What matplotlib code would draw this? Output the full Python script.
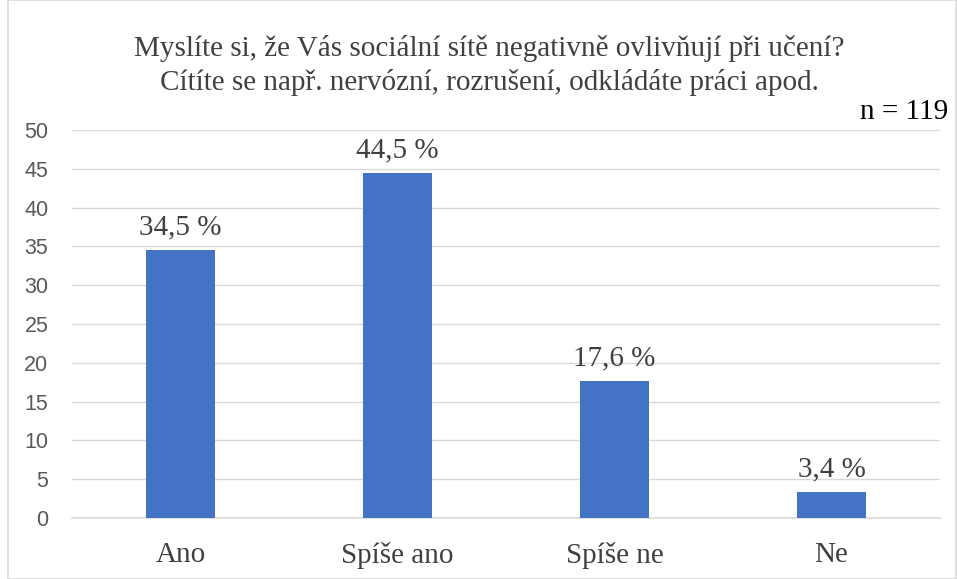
import matplotlib.pyplot as plt
from matplotlib.patches import Rectangle

categories = ['Ano', 'Spíše ano', 'Spíše ne', 'Ne']
values = [34.5, 44.5, 17.6, 3.4]
labels = ['34,5 %', '44,5 %', '17,6 %', '3,4 %']
yticks = [0, 5, 10, 15, 20, 25, 30, 35, 40, 45, 50]

serif = 'Liberation Serif'

fig = plt.figure(figsize=(9.57, 5.79), dpi=100)
ax = fig.add_axes([72 / 957, 1 - 518 / 579, 868 / 957, 388 / 579])

x = range(len(categories))
ax.bar(x, values, width=0.315, color='#4472C4', zorder=3)
ax.set_xlim(-0.5, len(categories) - 0.5)
ax.set_ylim(0, 50)
ax.set_yticks(yticks)
ax.set_xticks(list(x))
ax.set_xticklabels(categories, fontfamily=serif, fontsize=21, color='#404040')
ax.tick_params(axis='x', length=0, pad=17)
ax.tick_params(axis='y', length=0, pad=17, labelsize=15.5, labelcolor='#595959')
for t in ax.get_yticklabels():
    t.set_fontfamily('Liberation Sans')
ax.grid(axis='y', color='#D9D9D9', linewidth=1, zorder=0)
for s in ['top', 'right', 'left']:
    ax.spines[s].set_visible(False)
ax.spines['bottom'].set_color('#D9D9D9')
ax.spines['bottom'].set_linewidth(1.2)

for i, v in enumerate(values):
    ax.annotate(labels[i], (i, v), xytext=(0, 7), textcoords='offset points',
                ha='center', va='bottom', fontfamily=serif, fontsize=21, color='#404040')

fig.text(489 / 957, 1 - 48 / 579, 'Myslíte si, že Vás sociální sítě negativně ovlivňují při učení?',
         ha='center', va='center', fontfamily=serif, fontsize=21, color='#404040')
fig.text(489 / 957, 1 - 83 / 579, 'Cítíte se např. nervózní, rozrušení, odkládáte práci apod.',
         ha='center', va='center', fontfamily=serif, fontsize=21, color='#404040')
fig.text(948 / 957, 1 - 112 / 579, 'n = 119', ha='right', va='center',
         fontfamily=serif, fontsize=21, color='black')

fig.patches.append(Rectangle((8 / 957, 0), 1 - 9 / 957, 1, transform=fig.transFigure,
                             fill=False, edgecolor='#D9D9D9', linewidth=1.2))

fig.savefig('out.png', dpi=100)
